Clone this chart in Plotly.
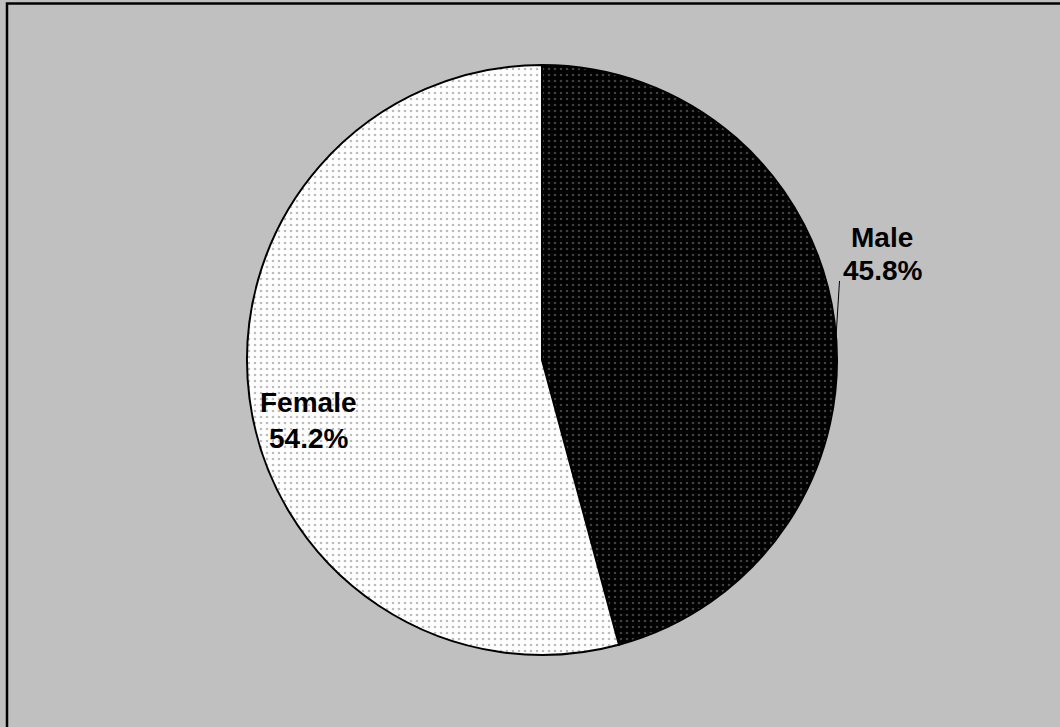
import plotly.graph_objects as go

labels = ["Male", "Female"]
values = [45.8, 54.2]
slice_bg = ["#000000", "#FFFFFF"]
dot_fg = ["#808080", "#7a7a7a"]

W, H = 1060, 727
cx, cy, r = 542, 360, 295

def px(x):
    return x / W

def py(y):
    return 1 - y / H

fig = go.Figure()
fig.add_trace(go.Pie(
    labels=labels,
    values=values,
    sort=False,
    direction="clockwise",
    rotation=0,
    textinfo="none",
    hoverinfo="label+percent",
    showlegend=False,
    marker=dict(
        colors=slice_bg,
        line=dict(color="#000000", width=2),
        pattern=dict(shape=".", fgcolor=dot_fg, bgcolor=slice_bg,
                     size=6, solidity=0.15, fillmode="overlay"),
    ),
    domain=dict(x=[px(cx - r), px(cx + r)], y=[py(cy + r), py(cy - r)]),
))

# (name line centre, percent line centre) in pixels
label_pos = [(882, 238, 271), (308, 402, 439)]
font = dict(family="Liberation Sans, Arial, sans-serif", size=28, color="#000000")
for lab, val, (x, y1, y2) in zip(labels, values, label_pos):
    fig.add_annotation(
        x=px(x), y=py(y1), xref="paper", yref="paper",
        text=f"<b>{lab}</b>", showarrow=False,
        font=font, xanchor="center", yanchor="middle",
    )
    fig.add_annotation(
        x=px(x), y=py(y2), xref="paper", yref="paper",
        text=f"<b>{val:.1f}%</b>", showarrow=False,
        font=font, xanchor="center", yanchor="middle",
    )

# leader line for Male label
fig.add_shape(type="line", xref="paper", yref="paper",
              x0=px(835.5), y0=py(345), x1=px(839.5), y1=py(281),
              line=dict(color="#000000", width=1))

# chart frame (left and top edges visible)
fig.add_shape(type="rect", xref="paper", yref="paper",
              x0=px(7), y0=-0.05, x1=1.05, y1=py(3.5),
              line=dict(color="#000000", width=2.5), fillcolor="rgba(0,0,0,0)")

fig.update_layout(
    width=W, height=H,
    margin=dict(l=0, r=0, t=0, b=0),
    paper_bgcolor="#C0C0C0",
    plot_bgcolor="#C0C0C0",
)

fig.write_html("out.html",
               config={"displayModeBar": False},
               post_script="document.body.style.margin='0';document.body.style.overflow='hidden';")
